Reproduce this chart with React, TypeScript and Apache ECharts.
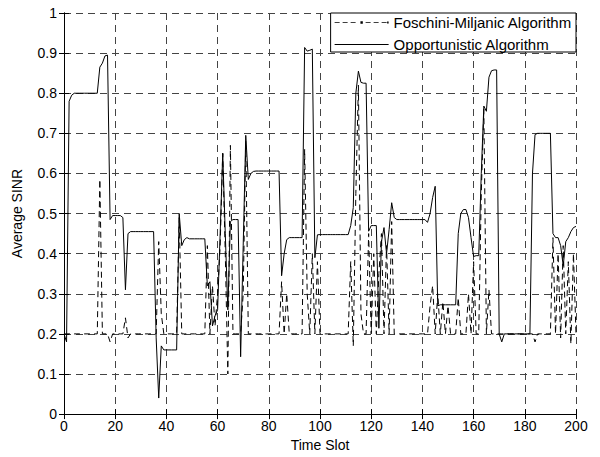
import React, { useEffect, useRef } from "react";
import * as echarts from "echarts";

// Time-slot axis ticks
const xTicks = [0, 20, 40, 60, 80, 100, 120, 140, 160, 180, 200];
const yTicks = [0, 0.1, 0.2, 0.3, 0.4, 0.5, 0.6, 0.7, 0.8, 0.9, 1];

const seriesNames = ["Foschini-Miljanic Algorithm", "Opportunistic Algorithm"];

// Average SINR per time slot (slots 0..200), Foschini-Miljanic (dashed)
const fmValues = [
  0.20, 0.20, 0.20, 0.20, 0.20, 0.20, 0.20, 0.20, 0.20, 0.20,
  0.20, 0.20, 0.20, 0.20, 0.585, 0.20, 0.20, 0.20, 0.18, 0.20,
  0.20, 0.20, 0.20, 0.20, 0.24, 0.19, 0.20, 0.20, 0.20, 0.20,
  0.20, 0.20, 0.20, 0.20, 0.20, 0.20, 0.20, 0.43, 0.25, 0.20,
  0.20, 0.20, 0.20, 0.20, 0.20, 0.49, 0.20, 0.20, 0.20, 0.20,
  0.20, 0.20, 0.20, 0.20, 0.20, 0.20, 0.42, 0.20, 0.32, 0.22,
  0.30, 0.42, 0.65, 0.40, 0.10, 0.67, 0.20, 0.20, 0.20, 0.20,
  0.30, 0.68, 0.20, 0.20, 0.20, 0.20, 0.20, 0.20, 0.20, 0.20,
  0.20, 0.20, 0.20, 0.20, 0.20, 0.33, 0.20, 0.30, 0.20, 0.20,
  0.20, 0.20, 0.20, 0.20, 0.66, 0.30, 0.20, 0.40, 0.20, 0.38,
  0.20, 0.20, 0.20, 0.20, 0.20, 0.20, 0.20, 0.20, 0.20, 0.20,
  0.20, 0.20, 0.38, 0.17, 0.55, 0.82, 0.25, 0.20, 0.20, 0.45,
  0.20, 0.40, 0.20, 0.35, 0.45, 0.20, 0.42, 0.20, 0.48, 0.20,
  0.20, 0.20, 0.20, 0.20, 0.20, 0.20, 0.20, 0.20, 0.20, 0.20,
  0.20, 0.20, 0.20, 0.27, 0.32, 0.20, 0.30, 0.20, 0.28, 0.20,
  0.27, 0.20, 0.20, 0.20, 0.29, 0.20, 0.20, 0.20, 0.30, 0.20,
  0.38, 0.20, 0.20, 0.55, 0.76, 0.20, 0.31, 0.20, 0.20, 0.20,
  0.20, 0.20, 0.20, 0.20, 0.20, 0.20, 0.20, 0.20, 0.20, 0.20,
  0.20, 0.20, 0.20, 0.20, 0.18, 0.20, 0.20, 0.20, 0.20, 0.20,
  0.20, 0.44, 0.20, 0.40, 0.19, 0.42, 0.20, 0.38, 0.175, 0.40,
  0.20,
];

// Average SINR per time slot (slots 0..200), Opportunistic (solid)
const oppValues = [
  0.20, 0.18, 0.78, 0.795, 0.80, 0.80, 0.80, 0.80, 0.80, 0.80,
  0.80, 0.80, 0.80, 0.80, 0.865, 0.875, 0.893, 0.895, 0.485, 0.495,
  0.495, 0.495, 0.495, 0.49, 0.31, 0.45, 0.455, 0.455, 0.455, 0.455,
  0.455, 0.455, 0.455, 0.455, 0.455, 0.455, 0.19, 0.04, 0.17, 0.16,
  0.16, 0.16, 0.16, 0.16, 0.16, 0.50, 0.42, 0.435, 0.44, 0.437,
  0.437, 0.437, 0.437, 0.437, 0.437, 0.437, 0.32, 0.33, 0.22, 0.245,
  0.26, 0.45, 0.65, 0.45, 0.26, 0.48, 0.485, 0.485, 0.485, 0.143,
  0.42, 0.695, 0.585, 0.60, 0.605, 0.606, 0.606, 0.606, 0.606, 0.606,
  0.606, 0.606, 0.606, 0.606, 0.606, 0.345, 0.40, 0.435, 0.44, 0.44,
  0.44, 0.44, 0.44, 0.44, 0.914, 0.905, 0.907, 0.91, 0.39, 0.447,
  0.4475, 0.4475, 0.4475, 0.4475, 0.4475, 0.4475, 0.4475, 0.4475, 0.4475, 0.4475,
  0.4475, 0.4475, 0.47, 0.515, 0.80, 0.855, 0.827, 0.825, 0.825, 0.456,
  0.47, 0.47, 0.47, 0.214, 0.43, 0.465, 0.40, 0.46, 0.527, 0.49,
  0.485, 0.485, 0.485, 0.485, 0.485, 0.485, 0.485, 0.485, 0.485, 0.485,
  0.485, 0.485, 0.478, 0.50, 0.54, 0.568, 0.27, 0.2725, 0.2725, 0.2725,
  0.2725, 0.2725, 0.2725, 0.2725, 0.45, 0.50, 0.51, 0.51, 0.49, 0.44,
  0.393, 0.395, 0.395, 0.60, 0.768, 0.755, 0.84, 0.856, 0.858, 0.858,
  0.20, 0.18, 0.20, 0.20, 0.20, 0.20, 0.20, 0.20, 0.20, 0.20,
  0.20, 0.20, 0.20, 0.60, 0.697, 0.70, 0.70, 0.70, 0.70, 0.70,
  0.70, 0.45, 0.44, 0.44, 0.42, 0.37, 0.43, 0.44, 0.455, 0.465,
  0.468,
];

const FONT = "Arial, 'Liberation Sans', Helvetica, sans-serif";

// Legend glyphs (MATLAB-style line samples)
const FM_ICON =
  "path://M0,1.2h5v0.8h-5z M8,1.2h5v0.8h-5z M16,1.2h5v0.8h-5z M25.8,0.3h2.4v2.4h-2.4z M31,1.2h5v0.8h-5z M39,1.2h5v0.8h-5z M47,1.2h5v0.8h-5z M52.5,0.6h1.5v1.8h-1.5z";
const OPP_ICON = "path://M0,1h54v1h-54z";

export default function App() {
  const ref = useRef<HTMLDivElement>(null);

  useEffect(() => {
    if (!ref.current) return;
    const chart = echarts.init(ref.current, null, { renderer: "svg" });

    const xMin = xTicks[0];
    const xMax = xTicks[xTicks.length - 1];
    const xInt = xTicks[1] - xTicks[0];
    const yMin = yTicks[0];
    const yMax = yTicks[yTicks.length - 1];
    const yInt = 0.1;

    const fmData = fmValues.map((v, i) => [i, v]);
    const oppData = oppValues.map((v, i) => [i, v]);

    const baseAxisLine = { show: true, lineStyle: { color: "#000", width: 1 } };
    const tick = { show: true, inside: true, length: 5, lineStyle: { color: "#000", width: 1 } };
    const gridLine = { show: true, lineStyle: { color: "#444", width: 1, type: [7, 5] as any } };

    chart.setOption({
      animation: false,
      backgroundColor: "#fff",
      grid: { left: 64, right: 24, top: 13, bottom: 42, containLabel: false },
      legend: {
        orient: "vertical",
        right: 24,
        top: 13,
        itemWidth: 54,
        itemHeight: 3,
        itemGap: 7,
        padding: [2, 4, 0, 4],
        borderColor: "#000",
        borderWidth: 1,
        borderRadius: 0,
        backgroundColor: "#fff",
        textStyle: { fontFamily: FONT, fontSize: 15, color: "#000" },
        data: [
          { name: seriesNames[0], icon: FM_ICON },
          { name: seriesNames[1], icon: OPP_ICON },
        ],
      },
      xAxis: [
        {
          type: "value",
          min: xMin,
          max: xMax,
          interval: xInt,
          name: "Time Slot",
          nameLocation: "middle",
          nameGap: 22,
          nameTextStyle: { fontFamily: FONT, fontSize: 14, color: "#000" },
          axisLine: baseAxisLine,
          axisTick: tick,
          axisLabel: { fontFamily: FONT, fontSize: 14, color: "#000", margin: 5 },
          splitLine: gridLine,
        },
        {
          type: "value",
          position: "top",
          min: xMin,
          max: xMax,
          interval: xInt,
          axisLine: baseAxisLine,
          axisTick: tick,
          axisLabel: { show: false },
          splitLine: { show: false },
        },
      ],
      yAxis: [
        {
          type: "value",
          min: yMin,
          max: yMax,
          interval: yInt,
          name: "Average SINR",
          nameLocation: "middle",
          nameGap: 40,
          nameTextStyle: { fontFamily: FONT, fontSize: 14, color: "#000" },
          axisLine: baseAxisLine,
          axisTick: tick,
          axisLabel: { fontFamily: FONT, fontSize: 14, color: "#000", margin: 7 },
          splitLine: gridLine,
        },
        {
          type: "value",
          position: "right",
          min: yMin,
          max: yMax,
          interval: yInt,
          axisLine: baseAxisLine,
          axisTick: tick,
          axisLabel: { show: false },
          splitLine: { show: false },
        },
      ],
      series: [
        {
          name: seriesNames[0],
          type: "line",
          data: fmData,
          symbol: "none",
          itemStyle: { color: "#000" },
          lineStyle: { color: "#000", width: 1, type: [6, 4] as any },
          z: 3,
        },
        {
          name: seriesNames[1],
          type: "line",
          data: oppData,
          symbol: "none",
          itemStyle: { color: "#000" },
          lineStyle: { color: "#000", width: 1, type: "solid" },
          z: 4,
        },
      ],
    });

    return () => chart.dispose();
  }, []);

  return (
    <div
      ref={ref}
      style={{ position: "fixed", left: 0, top: 0, width: 600, height: 457, background: "#fff" }}
    />
  );
}
